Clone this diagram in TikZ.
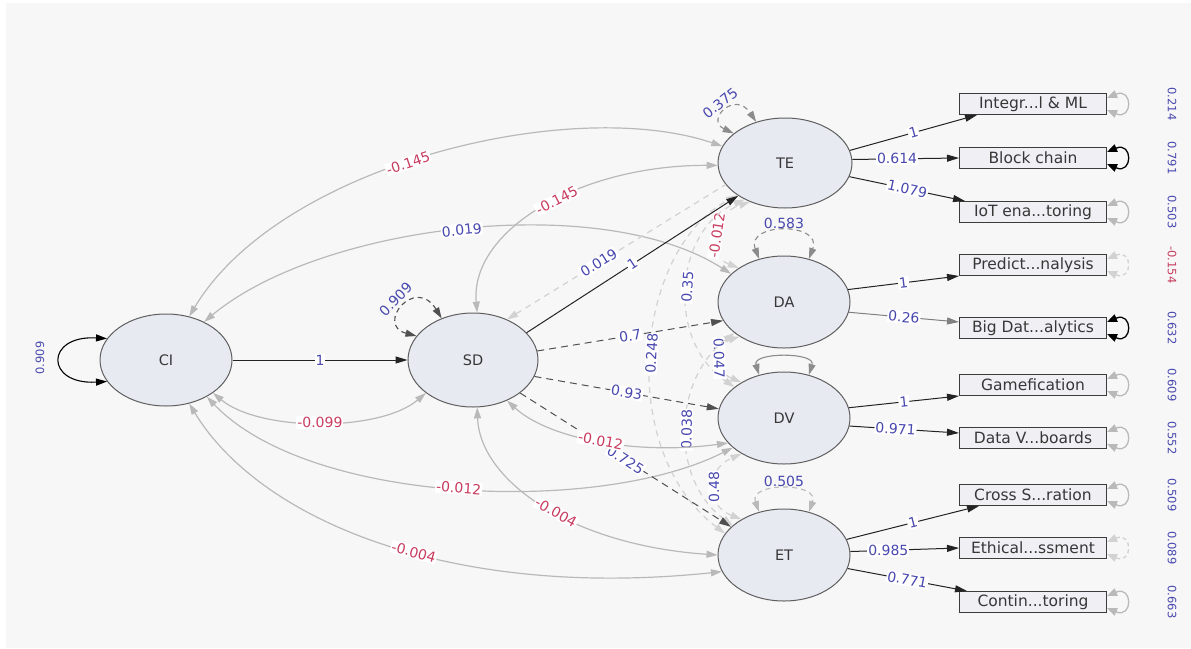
\documentclass[tikz,border=0pt]{standalone}
\usepackage{fontspec}
\setmainfont{DejaVu Sans}
\usetikzlibrary{arrows.meta,shapes.geometric}
\definecolor{bgpanel}{RGB}{247,247,247}
\definecolor{latfill}{RGB}{232,234,242}
\definecolor{latline}{RGB}{95,95,95}
\definecolor{boxfill}{RGB}{240,240,244}
\definecolor{boxline}{RGB}{60,60,60}
\definecolor{txtdark}{RGB}{55,55,55}
\definecolor{numblue}{RGB}{72,72,175}
\definecolor{numred}{RGB}{200,60,95}
\definecolor{covgray}{RGB}{185,185,185}
\definecolor{covlight}{RGB}{210,210,210}
\definecolor{pathdark}{RGB}{35,35,35}
\definecolor{pathdash}{RGB}{80,80,80}
\definecolor{loopgray}{RGB}{140,140,140}

\begin{document}
\begin{tikzpicture}[x=1pt,y=-1pt,line width=1pt,
  latent/.style={ellipse,draw=latline,fill=latfill,line width=1pt,inner sep=0pt,text=txtdark,font=\fontsize{14.5}{16}\selectfont},
  manifest/.style={rectangle,draw=boxline,fill=boxfill,line width=1pt,minimum width=147pt,minimum height=21pt,inner sep=0pt,text=txtdark,font=\fontsize{15.5}{16}\selectfont},
  regsolid/.style={draw=pathdark,-{Triangle[length=12pt,width=7pt]}},
  regdash/.style={draw=pathdash,dash pattern=on 7pt off 5pt,-{Triangle[length=12pt,width=7pt]}},
  covar/.style={draw=covgray,line width=1.2pt,{Triangle[length=11pt,width=7pt]}-{Triangle[length=11pt,width=7pt]}},
  covdash/.style={covar,draw=covlight,dash pattern=on 6pt off 5pt},
  selfloop/.style={line width=1.1pt,{Triangle[length=11pt,width=7pt]}-{Triangle[length=11pt,width=7pt]}},
  resid/.style={draw=covgray,line width=1.3pt,{Triangle[length=10pt,width=8pt]}-{Triangle[length=10pt,width=8pt]}},
  lblb/.style={fill=white,inner sep=1pt,text=numblue,font=\fontsize{14}{15}\selectfont},
  lblr/.style={lblb,text=numred},
  lblv/.style={inner sep=1pt,text=numblue,font=\fontsize{11.5}{12}\selectfont}
]
\fill[white] (0,0) rectangle (1191,648);
\fill[bgpanel] (6,3) rectangle (1191,648);
\useasboundingbox (0,0) rectangle (1191,648);

\node[latent,minimum width=132pt,minimum height=92pt] (CI) at (166,360) {CI};
\node[latent,minimum width=130pt,minimum height=94pt] (SD) at (473,360) {SD};
\node[latent,minimum width=134pt,minimum height=90pt] (TE) at (785,163) {TE};
\node[latent,minimum width=132pt,minimum height=92pt] (DA) at (784,302) {DA};
\node[latent,minimum width=132pt,minimum height=92pt] (DV) at (784,418) {DV};
\node[latent,minimum width=132pt,minimum height=92pt] (ET) at (784,555) {ET};

\node[manifest] (intg) at (1033,104) {Integr...l \& ML};
\node[manifest] (block) at (1033,158) {Block chain};
\node[manifest] (iot) at (1033,212) {IoT ena...toring};
\node[manifest] (pred) at (1033,265) {Predict...nalysis};
\node[manifest] (bigd) at (1033,328) {Big Dat...alytics};
\node[manifest] (game) at (1033,385) {Gamefication};
\node[manifest] (dviz) at (1033,438) {Data V...boards};
\node[manifest] (cross) at (1033,495) {Cross S...ration};
\node[manifest] (ethic) at (1033,548) {Ethical...ssment};
\node[manifest] (contin) at (1033,602) {Contin...toring};

% covariances of CI and SD
\draw[covar] (CI.62) .. controls (280,165) and (570,95) .. node[lblr,sloped,pos=0.46]{-0.145} (TE.165);
\draw[covar] (CI.45) .. controls (320,225) and (600,190) .. node[lblb,sloped,pos=0.5]{0.019} (DA.152);
\draw[covar] (SD.85) .. controls (470,230) and (580,165) .. node[lblr,sloped,pos=0.55]{-0.145} (TE.182);
\draw[covar] (CI.-35) .. controls (260,432) and (380,432) .. node[lblr,pos=0.5]{-0.099} (SD.215);
\draw[covar] (CI.-42) .. controls (310,505) and (600,515) .. node[lblr,sloped,pos=0.5]{-0.012} (DV.210);
\draw[covar] (CI.-62) .. controls (260,520) and (450,600) .. node[lblr,sloped,pos=0.56]{-0.004} (ET.195);
\draw[covar] (SD.-85) .. controls (480,480) and (570,545) .. node[lblr,sloped,pos=0.55]{-0.004} (ET.180);

% residual covariances
\draw[covdash] (DA.143) .. controls (705,255) and (710,215) .. node[lblr,sloped]{-0.012} (TE.228);
\draw[covdash] (DV.148) .. controls (665,340) and (675,230) .. node[lblb,sloped]{0.35} (TE.222);
\draw[covdash] (ET.160) .. controls (615,450) and (635,250) .. node[lblb,sloped]{0.248} (TE.214);
\draw[covdash] (DV.140) .. controls (712,370) and (712,345) .. node[lblb,sloped]{0.047} (DA.218);
\draw[covdash] (ET.150) .. controls (670,480) and (672,380) .. node[lblb,sloped]{0.038} (DA.212);
\draw[covdash] (ET.140) .. controls (705,505) and (705,470) .. node[lblb,sloped]{0.48} (DV.220);
\draw[covdash,{Triangle[length=11pt,width=7pt]}-] (SD.50) -- node[lblb,sloped,pos=0.42]{0.019} (TE.200);

% structural paths
\draw[regsolid] (CI.east) -- node[lblb]{1} (SD.west);
\draw[regsolid] (SD.27) -- node[lblb,sloped]{1} (TE.215);
\draw[regdash] (SD.8) -- node[lblb,sloped]{0.7} (DA.197);
\draw[regdash] (SD.-15) -- node[lblb,sloped]{0.93} (DV.172);
\draw[regdash] (SD.-35) -- node[lblb,sloped,pos=0.5]{0.725} (ET.152);
\draw[covar] (SD.-50) .. controls (550,440) and (640,455) .. node[lblr,sloped,pos=0.5]{-0.012} (DV.204);

% variances of the latents
\draw[selfloop,draw=black] (CI.160) .. controls (45,335) and (45,385) .. (CI.200);
\node[lblv,rotate=90] (varCI) at (40,358) {0.909};
\draw[selfloop,draw=pathdash,dash pattern=on 5pt off 4pt] (SD.157) .. controls (375,325) and (415,275) .. node[lblb,fill=none,sloped,above=4pt]{0.909} (SD.127);
\draw[selfloop,draw=loopgray,dash pattern=on 5pt off 4pt] (TE.150) .. controls (705,120) and (735,90) .. node[lblb,fill=none,sloped,above=3pt]{0.375} (TE.125);
\draw[selfloop,draw=loopgray,dash pattern=on 5pt off 4pt] (DA.120) .. controls (745,222) and (823,222) .. node[lblb,fill=none,above=1pt]{0.583} (DA.60);
\draw[selfloop,draw=loopgray] (DV.120) .. controls (752,352) and (816,352) .. (DV.60);
\draw[selfloop,draw=covgray,dash pattern=on 5pt off 4pt] (ET.120) .. controls (748,482) and (820,482) .. node[lblb,fill=none,above=1pt]{0.505} (ET.60);

% loadings
\draw[regsolid] (TE.11) -- node[lblb,sloped]{1} ([xshift=18pt]intg.south west);
\draw[regsolid] (TE.3) -- node[lblb,pos=0.42]{0.614} (block.west);
\draw[regsolid] (TE.-12) -- node[lblb,sloped]{1.079} ([xshift=6pt]iot.north west);
\draw[regsolid] (DA.11) -- node[lblb,sloped]{1} (pred.south west);
\draw[regsolid,draw=gray] (DA.-9) -- node[lblb,sloped]{0.26} ([yshift=6pt]bigd.west);
\draw[regsolid] (DV.9) -- node[lblb,sloped]{1} (game.south west);
\draw[regsolid] (DV.-7) -- node[lblb,sloped,pos=0.42]{0.971} ([yshift=5pt]dviz.west);
\draw[regsolid] (ET.14) -- node[lblb,sloped]{1} ([xshift=20pt]cross.south west);
\draw[regsolid] (ET.3) -- node[lblb,pos=0.35]{0.985} (ethic.west);
\draw[regsolid] (ET.-12) -- node[lblb,sloped]{0.771} ([xshift=8pt]contin.north west);

% residual variances of the indicators
\draw[resid] ([yshift=6pt]intg.east) .. controls +(26,-11) and +(26,11) .. ([yshift=-6pt]intg.east);
\draw[resid,draw=black] ([yshift=6pt]block.east) .. controls +(26,-11) and +(26,11) .. ([yshift=-6pt]block.east);
\draw[resid] ([yshift=6pt]iot.east) .. controls +(26,-11) and +(26,11) .. ([yshift=-6pt]iot.east);
\draw[resid,draw=covlight,dash pattern=on 4pt off 3pt] ([yshift=6pt]pred.east) .. controls +(26,-11) and +(26,11) .. ([yshift=-6pt]pred.east);
\draw[resid,draw=black] ([yshift=6pt]bigd.east) .. controls +(26,-11) and +(26,11) .. ([yshift=-6pt]bigd.east);
\draw[resid] ([yshift=6pt]game.east) .. controls +(26,-11) and +(26,11) .. ([yshift=-6pt]game.east);
\draw[resid] ([yshift=6pt]dviz.east) .. controls +(26,-11) and +(26,11) .. ([yshift=-6pt]dviz.east);
\draw[resid] ([yshift=6pt]cross.east) .. controls +(26,-11) and +(26,11) .. ([yshift=-6pt]cross.east);
\draw[resid,draw=covlight,dash pattern=on 4pt off 3pt] ([yshift=6pt]ethic.east) .. controls +(26,-11) and +(26,11) .. ([yshift=-6pt]ethic.east);
\draw[resid] ([yshift=6pt]contin.east) .. controls +(26,-11) and +(26,11) .. ([yshift=-6pt]contin.east);
\node[lblv,rotate=-90] (v1) at ([xshift=65pt]intg.east) {0.214};
\node[lblv,rotate=-90] (v2) at ([xshift=65pt]block.east) {0.791};
\node[lblv,rotate=-90] (v3) at ([xshift=65pt]iot.east) {0.503};
\node[lblv,rotate=-90,text=numred] (v4) at ([xshift=65pt]pred.east) {-0.154};
\node[lblv,rotate=-90] (v5) at ([xshift=65pt]bigd.east) {0.632};
\node[lblv,rotate=-90] (v6) at ([xshift=65pt]game.east) {0.609};
\node[lblv,rotate=-90] (v7) at ([xshift=65pt]dviz.east) {0.552};
\node[lblv,rotate=-90] (v8) at ([xshift=65pt]cross.east) {0.509};
\node[lblv,rotate=-90] (v9) at ([xshift=65pt]ethic.east) {0.089};
\node[lblv,rotate=-90] (v10) at ([xshift=65pt]contin.east) {0.663};
\end{tikzpicture}
\end{document}
